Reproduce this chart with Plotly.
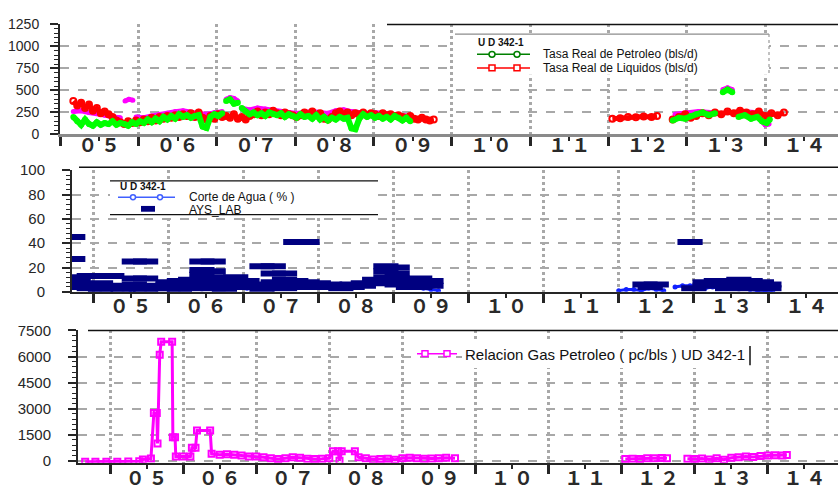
import plotly.graph_objects as go

# ---------------- data ----------------
years = ["05", "06", "07", "08", "09", "10", "11", "12", "13", "14"]
year_mid = [2005.5 + i for i in range(len(years))]

# Panel 1: production rates (bls/d)
pet_x = [2005.17, 2005.22, 2005.27, 2005.32, 2005.37, 2005.42, 2005.47, 2005.52, 2005.57, 2005.62,
         2005.67, 2005.72, 2005.77, 2005.82, 2005.87, 2005.92, 2005.97, 2006.02, 2006.07, 2006.12,
         2006.17, 2006.22, 2006.27, 2006.32, 2006.37, 2006.42, 2006.47, 2006.52, 2006.57, 2006.62,
         2006.67, 2006.72, 2006.77, 2006.82, 2006.87, 2006.92, 2006.97, 2007.02, 2007.07, None,
         2007.12, 2007.17, 2007.22, 2007.27, None, 2007.32, 2007.37, 2007.42, 2007.47, 2007.52,
         2007.57, 2007.62, 2007.67, 2007.72, 2007.77, 2007.82, 2007.87, 2007.92, 2007.97, 2008.02,
         2008.07, 2008.12, 2008.17, 2008.22, 2008.27, 2008.32, 2008.37, 2008.42, 2008.47, 2008.52,
         2008.57, 2008.62, 2008.67, 2008.72, 2008.77, 2008.82, 2008.87, 2008.92, 2008.97, 2009.02,
         2009.07, 2009.12, 2009.17, 2009.22, 2009.27, 2009.32, 2009.37, 2009.42, 2009.47, None,
         2012.82, 2012.9, 2012.98, 2013.05, 2013.12, 2013.2, 2013.28, 2013.36, None, 2013.46,
         2013.52, 2013.58, None, 2013.66, 2013.74, 2013.82, 2013.9, 2013.96, 2014.02, 2014.06]
pet_y = [200, 150, 110, 170, 120, 100, 140, 110, 130, 120,
         150, 110, 130, 120, 100, 140, 120, 150, 130, 170,
         140, 180, 150, 200, 170, 210, 180, 230, 200, 220,
         190, 210, 220, 90, 75, 200, 230, 210, 240, None,
         380, 400, 350, 360, None, 300, 260, 230, 250, 220,
         240, 210, 250, 230, 220, 240, 200, 230, 210, 190,
         230, 200, 210, 180, 220, 170, 200, 160, 190, 170,
         200, 180, 190, 70, 60, 180, 230, 200, 220, 190,
         210, 180, 200, 170, 210, 190, 160, 190, 150, None,
         160, 190, 180, 210, 230, 250, 220, 240, None, 480,
         510, 480, None, 200, 220, 180, 200, 150, 130, 170]

liq_x = [2005.17, 2005.22, 2005.27, 2005.32, 2005.37, 2005.42, 2005.47, 2005.52, 2005.57, 2005.62,
         2005.67, 2005.72, 2005.77, 2005.82, 2005.87, 2005.92, 2005.97, 2006.02, 2006.07, 2006.12,
         2006.17, 2006.22, 2006.27, 2006.32, 2006.37, 2006.42, 2006.47, 2006.52, 2006.57, 2006.62,
         2006.67, 2006.72, 2006.77, 2006.82, 2006.87, 2006.92, 2006.97, 2007.02, 2007.07, 2007.12,
         2007.17, 2007.22, 2007.27, 2007.32, 2007.37, 2007.42, 2007.47, 2007.52, 2007.57, 2007.62,
         2007.67, 2007.72, 2007.77, 2007.82, 2007.87, 2007.92, 2007.97, 2008.02, 2008.07, 2008.12,
         2008.17, 2008.22, 2008.27, 2008.32, 2008.37, 2008.42, 2008.47, 2008.52, 2008.57, 2008.62,
         2008.67, 2008.72, 2008.77, 2008.82, 2008.87, 2008.92, 2008.97, 2009.02, 2009.07, 2009.12,
         2009.17, 2009.22, 2009.27, 2009.32, 2009.37, 2009.42, 2009.47, 2009.52, 2009.57, 2009.62,
         2009.67, 2009.72, 2009.77, None,
         2012.05, 2012.15, 2012.25, 2012.35, 2012.45, 2012.55, 2012.62, None,
         2012.82, 2012.9, 2012.98, 2013.05, 2013.12, 2013.2, 2013.28, 2013.36, 2013.44, 2013.52,
         2013.6, 2013.68, 2013.76, 2013.84, 2013.92, 2014.0, 2014.08, 2014.16, 2014.24]
liq_y = [380, 330, 360, 300, 340, 270, 300, 240, 260, 230,
         200, 160, 140, 120, 150, 130, 160, 140, 170, 150,
         190, 160, 200, 180, 210, 190, 220, 200, 230, 210,
         240, 200, 250, 190, 170, 210, 180, 230, 200, 210,
         190, 230, 180, 200, 170, 210, 230, 260, 220, 250,
         230, 270, 240, 220, 250, 230, 220, 200, 220, 250,
         230, 260, 220, 240, 180, 170, 200, 240, 260, 230,
         250, 220, 240, 230, 250, 220, 240, 230, 210, 240,
         220, 230, 210, 220, 200, 190, 210, 180, 170, 190,
         170, 160, 170, None,
         180, 185, 200, 195, 205, 200, 210, None,
         170, 200, 230, 190, 210, 240, 220, 250, 230, 260,
         240, 270, 250, 230, 260, 210, 240, 220, 250]

gas_rate_x = [2005.17, 2005.27, 2005.37, 2005.47, 2005.57, 2005.67, 2005.77, None, 2005.83, 2005.88,
              2005.93, None, 2005.97, 2006.07, 2006.17, 2006.27, 2006.37, 2006.47, 2006.57, 2006.67,
              2006.77, 2006.87, 2006.97, 2007.07, None, 2007.12, 2007.17, 2007.22, 2007.27, None,
              2007.32, 2007.42, 2007.52, 2007.62, 2007.72, 2007.82, 2007.92, 2008.02, 2008.12, 2008.22,
              2008.32, 2008.42, 2008.52, 2008.62, 2008.72, 2008.82, 2008.92, 2009.02, 2009.12, 2009.22,
              2009.32, 2009.42, None,
              2012.85, 2013.0, 2013.15, 2013.3, None, 2013.46, 2013.52, 2013.58, None, 2013.7,
              2013.85, 2014.0, 2014.05]
gas_rate_y = [260, 270, 250, 240, 220, 200, 190, None, 380, 400,
              390, None, 200, 190, 210, 230, 240, 260, 270, 250,
              240, 230, 250, 260, None, 400, 420, 410, 380, None,
              300, 280, 300, 290, 280, 260, 250, 240, 250, 260,
              250, 240, 270, 280, 260, 250, 240, 250, 240, 230,
              220, 210, None,
              230, 250, 260, 250, None, 510, 530, 510, None, 260,
              250, 110, 120]

# Panel 2: water cut (%)
agua_x = [2004.77, 2004.82, 2004.9, 2005.0, 2005.1, 2005.2, 2005.3, 2005.4, 2005.5, 2005.6,
          2005.7, 2005.8, 2005.9, 2006.0, 2006.1, 2006.2, 2006.3, 2006.4, 2006.5, 2006.6,
          2006.7, 2006.8, 2006.9, 2007.0, 2007.05, 2007.1, 2007.2, 2007.3, 2007.4, 2007.5,
          2007.6, 2007.7, 2007.8, 2007.9, 2008.0, 2008.1, 2008.2, 2008.3, 2008.4, 2008.5,
          2008.6, 2008.7, 2008.8, 2008.9, 2009.0, 2009.1, 2009.2, 2009.3, 2009.4, 2009.5,
          2009.6, None,
          2012.0, 2012.1, 2012.2, 2012.3, 2012.4, 2012.5, 2012.6, None,
          2012.75, 2012.85, 2012.95, 2013.05, 2013.15, 2013.25, 2013.35, 2013.45, 2013.55, 2013.65,
          2013.75, 2013.85, 2013.95, 2014.05]
agua_y = [10, 8, 5, 7, 4, 6, 3, 5, 2, 4,
          3, 5, 4, 6, 5, 7, 6, 9, 7, 12,
          10, 8, 6, 5, 3, 7, 5, 6, 8, 7,
          6, 8, 7, 6, 5, 4, 5, 4, 5, 6,
          5, 8, 10, 12, 11, 9, 7, 5, 3, 2,
          1, None,
          1, 2, 2, 1, 3, 2, 1, None,
          4, 5, 5, 4, 3, 4, 3, 4, 5, 3,
          2, 1, 1, 0.5]

ays_x = [2004.73, 2004.73,
         2004.80, 2004.80, 2004.80, 2004.95, 2004.95, 2004.95, 2005.10, 2005.10, 2005.10,
         2005.25, 2005.25, 2005.25, 2005.40, 2005.40, 2005.55, 2005.55, 2005.55, 2005.55,
         2005.70, 2005.70, 2005.70, 2005.70, 2005.85, 2005.85, 2006.00, 2006.00, 2006.00,
         2006.15, 2006.15, 2006.15, 2006.30, 2006.30, 2006.30, 2006.45, 2006.45, 2006.45, 2006.45,
         2006.45, 2006.60, 2006.60, 2006.60, 2006.60, 2006.60, 2006.75, 2006.75, 2006.75,
         2006.90, 2006.90, 2006.90, 2007.05, 2007.05, 2007.25, 2007.25, 2007.25,
         2007.40, 2007.40, 2007.40, 2007.40, 2007.55, 2007.55, 2007.55, 2007.55,
         2007.70, 2007.70, 2007.70, 2007.85, 2007.85, 2007.85, 2008.00, 2008.00, 2008.15, 2008.15,
         2008.30, 2008.30, 2008.45, 2008.45, 2008.60, 2008.60, 2008.75, 2008.75,
         2008.90, 2008.90, 2008.90, 2008.90, 2009.05, 2009.05, 2009.05, 2009.05,
         2009.20, 2009.20, 2009.20, 2009.35, 2009.35, 2009.35, 2009.50, 2009.50,
         2012.35, 2012.42, 2012.50, 2012.95,
         2013.00, 2013.15, 2013.15, 2013.30, 2013.30, 2013.45, 2013.45, 2013.45,
         2013.60, 2013.60, 2013.60, 2013.75, 2013.75, 2013.75, 2013.90, 2013.90, 2014.00, 2014.00]
ays_y = [45, 27,
         8, 4, 12, 13, 6, 3, 13, 7, 2,
         13, 5, 3, 4, 2, 11, 25, 6, 3,
         11, 25, 4, 2, 5, 3, 6, 3, 8,
         9, 5, 2, 10, 6, 3, 25, 18, 14, 8,
         4, 25, 17, 12, 7, 3, 11, 6, 2,
         12, 8, 4, 9, 4, 21, 6, 2,
         21, 15, 8, 4, 15, 10, 6, 3,
         41, 9, 5, 41, 8, 4, 7, 5, 6, 4,
         5, 3, 6, 4, 7, 5, 10, 7,
         21, 17, 12, 8, 20, 15, 11, 6,
         10, 7, 4, 11, 8, 4, 9, 5,
         6, 4, 6, 41,
         3, 5, 8, 6, 9, 9, 7, 3,
         10, 8, 5, 9, 7, 3, 8, 5, 6, 3]

# Panel 3: gas-oil ratio (pc/bls)
rgp_x = [2004.66, 2004.8, 2004.95, 2005.1, 2005.25, 2005.4, 2005.45, 2005.56, 2005.60, 2005.64,
         2005.65, 2005.68, 2005.70, 2005.85, 2005.86, 2005.89, 2005.90, 2006.0, 2006.10, 2006.12,
         2006.17, 2006.19, 2006.37, 2006.39, 2006.5, 2006.6, 2006.7, 2006.8, 2006.9, 2007.0,
         2007.1, 2007.2, 2007.3, 2007.4, 2007.5, 2007.6, 2007.7, 2007.8, 2007.9, 2008.0,
         2008.05, 2008.12, 2008.14, 2008.17, 2008.35, 2008.4, 2008.5, 2008.6, 2008.7, 2008.8,
         2008.9, 2009.0, 2009.1, 2009.2, 2009.3, 2009.4, 2009.5, 2009.6, 2009.72, None,
         2012.05, 2012.15, 2012.25, 2012.35, 2012.45, 2012.55, 2012.62, None,
         2012.9, 2013.0, 2013.1, 2013.2, 2013.3, 2013.4, 2013.5, 2013.6, 2013.7, 2013.8,
         2013.9, 2014.0, 2014.1, 2014.2, 2014.26]
rgp_y = [-60, -60, -50, -50, -40, -30, 80, 130, 2750, 2750,
         1000, 6100, 6850, 6850, 1350, 1350, 250, 250, 250, 750,
         750, 1750, 1750, 400, 350, 380, 350, 300, 250, 250,
         200, 150, 100, 150, 200, 180, 120, 100, 120, 150,
         550, 550, 0, 550, 550, 200, 150, 80, 100, 120,
         60, 150, 180, 150, 120, 130, 150, 180, 150, None,
         100, 120, 100, 150, 150, 160, 150, None,
         120, 100, 130, 80, 150, 60, 180, 200, 250, 220,
         280, 300, 320, 300, 330]

# ---------------- styling ----------------
W, H = 838, 491
FULLWIDTH = str.maketrans("0123456789", "０１２３４５６７８９")
year_text = [f"<b>{y[0].translate(FULLWIDTH)}\u2009{y[1].translate(FULLWIDTH)}</b>" for y in years]

GRID = "#a8a8a8"
INK = "#262626"


def px(x):
    return x / W


def py(y):
    return 1 - y / H


def year_axis(left, xrange, anchor, line_color, line_width):
    # year boundaries: long ticks + dotted vertical grid; mid-year: short minor ticks
    return dict(
        domain=[px(left), 1.0], range=xrange, anchor=anchor,
        tickmode="linear", tick0=2005, dtick=1, showticklabels=False,
        ticks="outside", ticklen=9, tickwidth=3, tickcolor=INK,
        showgrid=True, gridcolor=GRID, gridwidth=3, griddash="dot",
        zeroline=False, showline=True, linecolor=line_color, linewidth=line_width,
        minor=dict(tick0=2005, dtick=0.5, ticks="outside", ticklen=4, tickwidth=2,
                   tickcolor=INK, showgrid=False),
    )


def label_axis(left, xrange, anchor, over, standoff):
    # two-digit year labels centred in each year
    return dict(
        domain=[px(left), 1.0], range=xrange, anchor=anchor, overlaying=over, side="bottom",
        tickmode="array", tickvals=year_mid, ticktext=year_text, ticks="",
        ticklabelstandoff=standoff,
        tickfont=dict(family="Noto Sans CJK JP", size=19, color="#2a2a2a"),
        showgrid=False, zeroline=False, showline=False,
    )


def yaxis_style(bottom, top, yrange, dtick, minor_dtick, anchor, standoff, size):
    return dict(
        domain=[py(bottom), py(top)], range=yrange, anchor=anchor,
        tickmode="linear", tick0=0, dtick=dtick,
        ticks="outside", ticklen=8, tickwidth=2, tickcolor=INK,
        ticklabelstandoff=standoff,
        tickfont=dict(family="Liberation Sans", size=size, color=INK),
        showgrid=True, gridcolor=GRID, gridwidth=1.5, griddash="dash",
        zeroline=False, showline=True, linecolor=INK, linewidth=2,
        minor=dict(tick0=0, dtick=minor_dtick, ticks="outside", ticklen=4,
                   tickwidth=1, tickcolor=INK, showgrid=False),
    )


fig = go.Figure()

# Panel 1 traces
fig.add_trace(go.Scatter(x=gas_rate_x, y=gas_rate_y, mode="lines+markers", xaxis="x", yaxis="y",
                         line=dict(color="#ff00ff", width=5), marker=dict(size=5, color="#ff00ff"),
                         connectgaps=False, showlegend=False))
fig.add_trace(go.Scatter(x=liq_x, y=liq_y, mode="lines+markers", xaxis="x", yaxis="y",
                         name="Tasa Real de Liquidos (bls/d)",
                         line=dict(color="#ff0000", width=5),
                         marker=dict(size=6, color="#ff0000", symbol="circle-open", line=dict(width=2)),
                         connectgaps=False, showlegend=False))
fig.add_trace(go.Scatter(x=pet_x, y=pet_y, mode="lines+markers", xaxis="x", yaxis="y",
                         name="Tasa Real de Petroleo (bls/d)",
                         line=dict(color="#00ff00", width=6), marker=dict(size=6, color="#00ff00"),
                         connectgaps=False, showlegend=False))

# Panel 2 traces
fig.add_trace(go.Scatter(x=agua_x, y=agua_y, mode="lines+markers", xaxis="x2", yaxis="y2",
                         name="Corte de Agua (%)",
                         line=dict(color="#1020ff", width=3), marker=dict(size=5, color="#1020ff"),
                         connectgaps=False, showlegend=False))
fig.add_trace(go.Scatter(x=ays_x, y=ays_y, mode="markers", xaxis="x2", yaxis="y2", name="AYS_LAB",
                         marker=dict(symbol="line-ew", size=18, color="#000080",
                                     line=dict(color="#000080", width=6)),
                         showlegend=False))

# Panel 3 trace
fig.add_trace(go.Scatter(x=rgp_x, y=rgp_y, mode="lines+markers", xaxis="x3", yaxis="y3",
                         name="Relacion Gas Petroleo ( pc/bls ) UD 342-1",
                         line=dict(color="#ff00ff", width=3),
                         marker=dict(symbol="square-open", size=6, color="#ff00ff", line=dict(width=2)),
                         connectgaps=False, showlegend=False))

# empty traces so the label axes get drawn
for xa, ya in (("x4", "y"), ("x5", "y2"), ("x6", "y3")):
    fig.add_trace(go.Scatter(x=[], y=[], xaxis=xa, yaxis=ya, showlegend=False, hoverinfo="skip"))

r1, r2, r3 = [2005.0, 2014.93], [2004.72, 2014.92], [2004.562, 2014.96]
fig.update_layout(
    xaxis=year_axis(60, r1, "y", "#8a8a8a", 3),
    yaxis=yaxis_style(130, 16, [0, 1250], 250, 50, "x", 8, 14),
    xaxis2=year_axis(72, r2, "y2", INK, 2),
    yaxis2=yaxis_style(293, 167, [0, 100], 20, 4, "x2", 14, 15),
    xaxis3=year_axis(78, r3, "y3", INK, 2),
    yaxis3=yaxis_style(470, 333, [-110, 7500], 1500, 300, "x3", 14, 15),
    xaxis4=label_axis(60, r1, "y", "x", -2),
    xaxis5=label_axis(72, r2, "y2", "x2", 1),
    xaxis6=label_axis(78, r3, "y3", "x3", 2),
)

shapes = []
annotations = []


def hline(x0, x1, y, color, width=1.5, dash="solid"):
    shapes.append(dict(type="line", xref="paper", yref="paper", x0=px(x0), x1=px(x1),
                       y0=py(y), y1=py(y), line=dict(color=color, width=width, dash=dash)))


def vline(x, y0, y1, color, width=1.5, dash="solid"):
    shapes.append(dict(type="line", xref="paper", yref="paper", x0=px(x), x1=px(x),
                       y0=py(y0), y1=py(y1), line=dict(color=color, width=width, dash=dash)))


def box(x0, y0, x1, y1):
    shapes.append(dict(type="rect", xref="paper", yref="paper", x0=px(x0), x1=px(x1),
                       y0=py(y1), y1=py(y0), fillcolor="white", line=dict(width=0), layer="above"))


def marker(cx, cy, color, kind="circle", r=3):
    shapes.append(dict(type="circle" if kind == "circle" else "rect", xref="paper", yref="paper",
                       x0=px(cx - r), x1=px(cx + r), y0=py(cy + r), y1=py(cy - r),
                       fillcolor="white", line=dict(color=color, width=1.5), layer="above"))


def text(x, y, s, size=12, bold=False, color="#111"):
    annotations.append(dict(xref="paper", yref="paper", x=px(x), y=py(y), xanchor="left",
                            yanchor="middle", showarrow=False,
                            text=f"<b>{s}</b>" if bold else s,
                            font=dict(family="Liberation Sans", size=size, color=color)))


# frame tops
hline(387, 838, 16, "#111", 1.5)
hline(79, 838, 164, "#111", 1.5)
hline(88, 838, 333, "#111", 1.5)

# legend, panel 1
box(455, 26, 769, 68)
hline(455, 769, 26, "#8c8c8c", 1.2)
vline(769, 26, 68, "#9a9a9a", 1.2, "dot")
text(476, 35, "U D 342-1", 10, True)
hline(477, 530, 47, "#008000", 1.5)
marker(492, 47, "#008000")
marker(517, 47, "#008000")
text(541, 47, "Tasa Real de Petroleo (bls/d)", 12)
hline(477, 530, 61, "#ff0000", 1.5)
marker(492, 61, "#ff0000", "rect")
marker(517, 61, "#ff0000", "rect")
text(541, 61, "Tasa Real de Liquidos (bls/d)", 12)

# legend, panel 2
box(110, 178, 378, 213)
hline(110, 378, 178, "#111", 1.2)
hline(110, 378, 213, "#111", 1.2)
text(118, 184, "U D 342-1", 10, True)
hline(118, 175, 195, "#4060ff", 1.5)
marker(133, 195, "#4060ff", r=2.5)
marker(160, 195, "#4060ff", r=2.5)
text(187, 195, "Corte de Agua ( % )", 12)
shapes.append(dict(type="rect", xref="paper", yref="paper", x0=px(141), x1=px(155),
                   y0=py(210), y1=py(204), fillcolor="#000080", line=dict(width=0), layer="above"))
text(187, 208, "AYS_LAB", 12)

# legend, panel 3
box(462, 345, 756, 372)
hline(417, 457, 357, "#ff00ff", 1.5)
marker(425, 357, "#ff00ff", "rect")
marker(447, 357, "#ff00ff", "rect")
text(463, 358, "Relacion Gas Petroleo ( pc/bls ) UD 342-1", 15, color="#111")
vline(750, 349, 369, "#111", 1.5)

fig.update_layout(
    width=W, height=H, margin=dict(l=0, r=0, t=0, b=0),
    paper_bgcolor="white", plot_bgcolor="white",
    shapes=shapes, annotations=annotations, showlegend=False,
)

fig.write_html("out.html")
